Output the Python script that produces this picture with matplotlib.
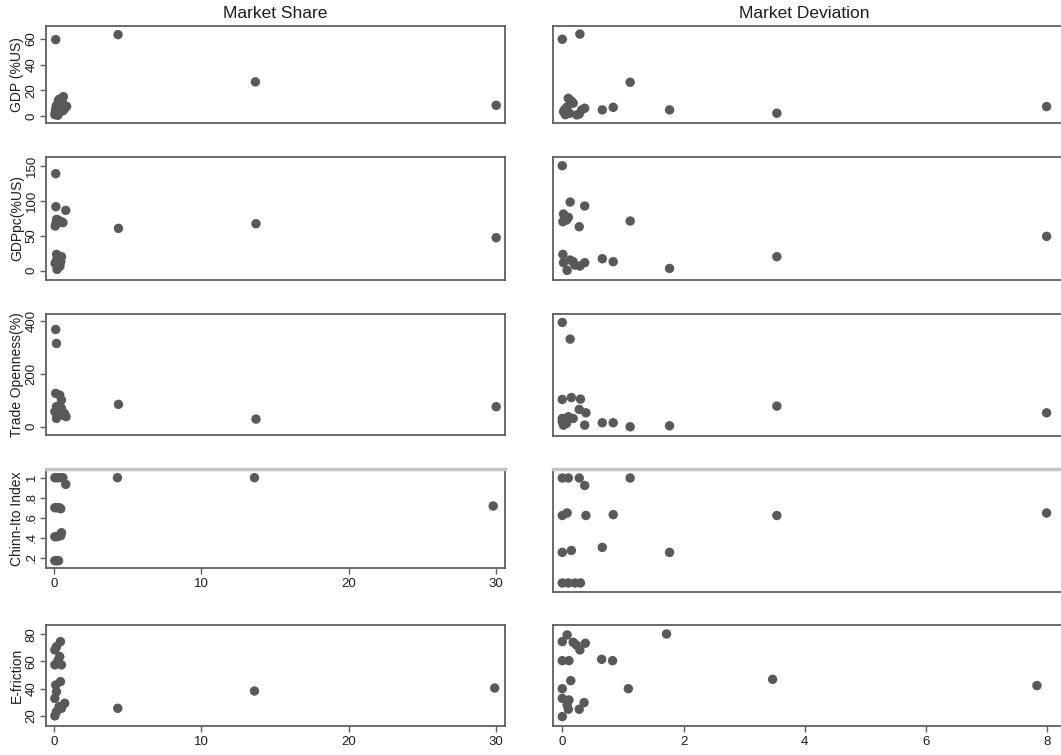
import matplotlib
matplotlib.use("Agg")
import matplotlib.pyplot as plt

plt.rcParams['font.family'] = ['Liberation Sans', 'DejaVu Sans']

# ---------------- data ----------------
col_titles = ["Market Share", "Market Deviation"]
row_labels = ["GDP (%US)", "GDPpc(%US)", "Trade Openness(%)", "Chinn-Ito Index", "E-friction"]

# GDP (%US)
share_gdp_x = [0.11, 4.34, 13.66, 30.0, 0.63, 0.29, 0.85, 0.40, 0.10, 0.20, 0.50, 0.05, 0.30, 0.15,
               0.60, 0.25, 0.45, 0.70, 0.35, 0.08, 0.55, 0.18]
share_gdp_y = [59.4, 63.3, 26.5, 8.3, 15.0, 12.0, 7.5, 10.0, 5.0, 3.0, 6.0, 1.0, 2.0, 8.0,
               4.0, 0.5, 9.0, 5.5, 13.0, 2.5, 11.0, 6.5]
dev_gdp_x = [0.00, 0.29, 1.12, 3.54, 7.99, 0.66, 0.84, 1.77, 0.10, 0.18, 0.37, 0.02, 0.24, 0.32,
             0.05, 0.12, 0.28, 0.08, 0.15, 0.04]
dev_gdp_y = [59.7, 63.7, 26.2, 2.1, 7.3, 4.7, 6.7, 4.7, 13.7, 9.9, 6.0, 3.4, 0.8, 4.7,
             1.0, 2.0, 1.5, 7.0, 11.5, 5.0]

# GDPpc (%US)
share_gdppc_x = [0.11, 0.12, 0.79, 4.37, 13.7, 30.0, 0.17, 0.50, 0.08, 0.60, 0.28, 0.12,
                 0.17, 0.50, 0.17, 0.40, 0.20, 0.07, 0.45]
share_gdppc_y = [139.0, 91.7, 86.4, 60.7, 67.3, 47.3, 73.5, 70.2, 64.0, 68.8, 72.6, 67.8,
                 23.4, 20.0, 15.3, 6.7, 1.9, 10.5, 12.9]
dev_gdppc_x = [0.00, 0.13, 0.37, 0.02, 0.10, 0.01, 0.07, 0.28, 1.12, 7.99, 3.54, 1.77, 0.66, 0.84,
               0.01, 0.02, 0.13, 0.21, 0.29, 0.37, 0.08, 0.18]
dev_gdppc_y = [150.4, 98.4, 92.7, 81.2, 76.4, 70.2, 72.6, 63.0, 71.2, 49.2, 20.1, 3.3, 17.2, 12.9,
               23.4, 11.5, 15.3, 8.1, 6.7, 11.5, 0.5, 12.9]

# Trade openness (%)
share_trade_x = [0.11, 0.16, 4.37, 13.7, 30.0, 0.11, 0.38, 0.50, 0.16, 0.38, 0.60, 0.81, 0.16,
                 0.27, 0.05, 0.50, 0.70]
share_trade_y = [369.0, 316.0, 84.8, 29.0, 75.9, 126.5, 120.0, 101.0, 76.0, 57.0, 44.0, 38.0, 31.6,
                 44.0, 57.0, 69.6, 50.6]
dev_trade_x = [0.00, 0.13, 0.00, 0.15, 0.30, 0.28, 0.39, 3.54, 7.99, 0.66, 0.84, 1.12, 1.77, 0.37,
               0.00, 0.10, 0.18, 0.02, 0.07, 0.00]
dev_trade_y = [396.0, 332.7, 103.7, 111.0, 105.0, 65.8, 53.0, 78.4, 53.0, 15.2, 15.2, 0.0, 3.8, 6.3,
               31.6, 38.0, 31.6, 6.3, 12.7, 19.0]

# Chinn-Ito index
share_chinn_x = [4.30, 13.6, 29.8, 0.05, 0.20, 0.40, 0.60, 0.79, 0.05, 0.20, 0.35, 0.45,
                 0.05, 0.20, 0.45, 0.50, 0.05, 0.20, 0.30]
share_chinn_y = [1.0, 1.0, 0.717, 1.0, 1.0, 1.0, 1.0, 0.933, 0.70, 0.70, 0.70, 0.69,
                 0.41, 0.41, 0.42, 0.45, 0.17, 0.17, 0.17]
dev_chinn_x = [0.00, 0.10, 0.28, 1.12, 0.37, 0.00, 0.08, 0.39, 0.84, 3.54, 7.99,
               0.00, 0.15, 0.66, 1.77, 0.00, 0.10, 0.21, 0.30]
dev_chinn_y = [1.0, 1.0, 1.0, 1.0, 0.94, 0.70, 0.72, 0.70, 0.707, 0.70, 0.72,
               0.405, 0.42, 0.445, 0.405, 0.16, 0.16, 0.16, 0.16]

# E-friction
share_ef_x = [4.32, 13.6, 29.9, 0.43, 0.16, 0.05, 0.38, 0.05, 0.50, 0.27, 0.43, 0.11, 0.16,
              0.05, 0.72, 0.50, 0.16, 0.05, 0.34]
share_ef_y = [25.6, 38.3, 40.5, 74.6, 70.9, 68.5, 63.6, 57.5, 57.5, 61.0, 45.2, 42.7, 37.8,
              32.9, 29.3, 25.6, 23.1, 20.0, 26.8]
dev_ef_x = [1.72, 0.00, 0.08, 0.18, 0.29, 0.38, 0.23, 0.00, 0.11, 0.65, 0.83, 3.47, 7.83, 1.09,
            0.14, 0.00, 0.00, 0.11, 0.10, 0.28, 0.36, 0.00, 0.08]
dev_ef_y = [80.2, 74.6, 79.5, 74.1, 68.5, 73.4, 72.2, 60.6, 60.6, 61.6, 60.6, 46.9, 42.3, 40.0,
            45.9, 40.0, 32.9, 31.7, 24.9, 24.9, 29.8, 19.5, 28.0]

gdp_ticks = [0, 20, 40, 60]
gdppc_ticks = [0, 50, 100, 150]
trade_ticks = [0, 200, 400]
chinn_ticks = [0.2, 0.4, 0.6, 0.8, 1.0]
chinn_labels = [".2", ".4", ".6", ".8", "1"]
ef_ticks = [20, 40, 60, 80]
share_ticks = [0, 10, 20, 30]
dev_ticks = [0, 2, 4, 6, 8]

# ---------------- layout ----------------
W, H = 1061, 755
fig = plt.figure(figsize=(W / 100, H / 100), dpi=100)
fig.patch.set_facecolor("white")

MARK = "#595959"
SPINE = "#5f5f5f"
TXT = "#1e1e1e"

left_cols = (46, 505)
right_cols = (553, 1066)
left_rows = [(26, 123), (157, 280), (314, 435), (469, 568), (625, 726)]
right_rows = [(26, 123), (157, 280), (314, 436), (469, 592), (625, 726)]

left_ylims = [(-5.5, 70), (-13.3, 162.9), (-31.5, 427.7), (0.097, 1.087), (12.6, 86.8)]
right_ylims = [(-5.5, 70), (-13.3, 162.9), (-35.0, 428.0), (0.088, 1.072), (12.6, 86.8)]

left_data = [(share_gdp_x, share_gdp_y), (share_gdppc_x, share_gdppc_y),
             (share_trade_x, share_trade_y), (share_chinn_x, share_chinn_y),
             (share_ef_x, share_ef_y)]
right_data = [(dev_gdp_x, dev_gdp_y), (dev_gdppc_x, dev_gdppc_y),
              (dev_trade_x, dev_trade_y), (dev_chinn_x, dev_chinn_y),
              (dev_ef_x, dev_ef_y)]
yticks = [gdp_ticks, gdppc_ticks, trade_ticks, chinn_ticks, ef_ticks]
yticklabels = [None, None, None, chinn_labels, None]


def make_ax(cols, rows):
    x0, x1 = cols
    y0, y1 = rows
    return fig.add_axes([x0 / W, 1 - y1 / H, (x1 - x0) / W, (y1 - y0) / H])


def style(ax, light_top=False):
    ax.set_facecolor("white")
    for s in ax.spines.values():
        s.set_color(SPINE)
        s.set_linewidth(1.3)
    if light_top:
        ax.spines["top"].set_color("#c4c4c4")
        ax.spines["top"].set_linewidth(2.5)
    ax.tick_params(colors=SPINE, labelcolor=TXT, length=4, width=1.0, labelsize=9.5)


for i in range(5):
    # left column: market share
    ax = make_ax(left_cols, left_rows[i])
    style(ax, light_top=(i == 3))
    xs, ys = left_data[i]
    ax.scatter(xs, ys, s=46, color=MARK, edgecolors="none", zorder=3, clip_on=False)
    ax.set_xlim(-0.55, 30.6)
    ax.set_ylim(*left_ylims[i])
    ax.set_yticks(yticks[i])
    if yticklabels[i] is not None:
        ax.set_yticklabels(yticklabels[i])
    for lab in ax.get_yticklabels():
        lab.set_rotation(90)
        lab.set_va("center")
        lab.set_ha("right")
    ax.tick_params(axis="y", pad=2)
    if i >= 3:
        ax.set_xticks(share_ticks)
        ax.tick_params(axis="x", pad=3)
    else:
        ax.set_xticks([])
    y0, y1 = left_rows[i]
    fig.text(17 / W, 1 - (y0 + y1) / 2 / H, row_labels[i], rotation=90,
             ha="center", va="center", fontsize=10, color=TXT)

    # right column: market deviation
    ax2 = make_ax(right_cols, right_rows[i])
    style(ax2, light_top=(i == 3))
    ax2.spines["right"].set_visible(False)
    xs, ys = right_data[i]
    ax2.scatter(xs, ys, s=46, color=MARK, edgecolors="none", zorder=3, clip_on=False)
    ax2.set_xlim(-0.153, 8.31)
    ax2.set_ylim(*right_ylims[i])
    ax2.set_yticks([])
    if i == 4:
        ax2.set_xticks(dev_ticks)
        ax2.tick_params(axis="x", pad=3)
    else:
        ax2.set_xticks([])

fig.text(275 / W, 1 - 13 / H, col_titles[0], ha="center", va="center", fontsize=12.5, color=TXT)
fig.text(804 / W, 1 - 13 / H, col_titles[1], ha="center", va="center", fontsize=12.5, color=TXT)

fig.savefig("out.png", dpi=100, facecolor="white")
